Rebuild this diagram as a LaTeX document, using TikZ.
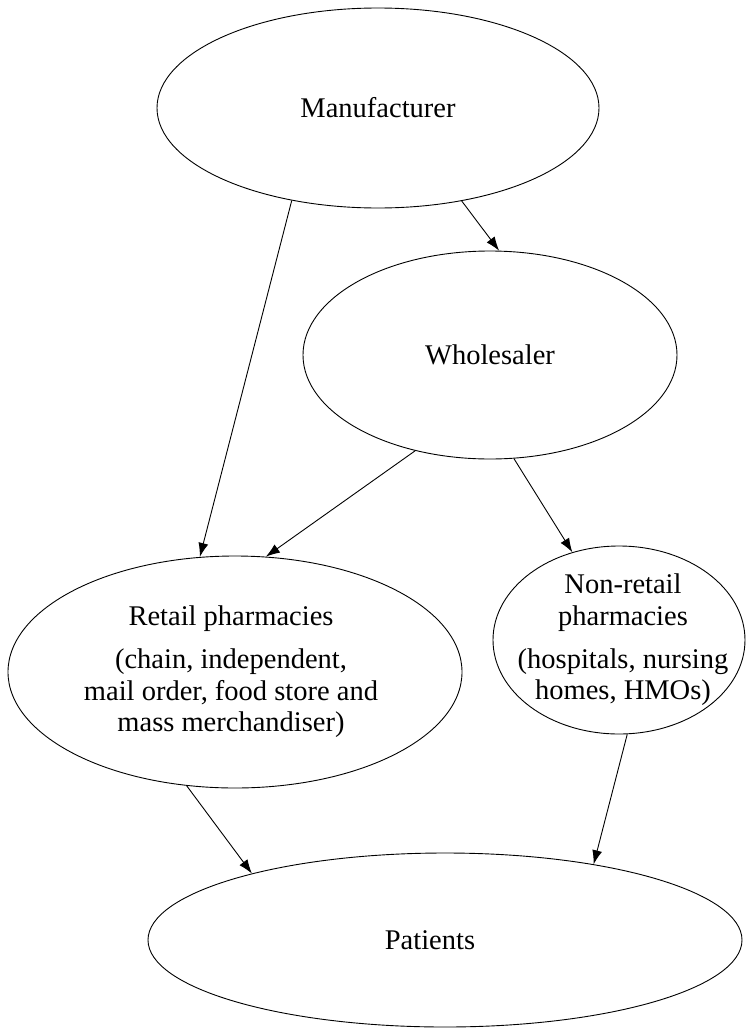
\documentclass[tikz,border=0pt]{standalone}
\usepackage{fontspec}
\setmainfont{Liberation Serif}
\usetikzlibrary{shapes.geometric,arrows.meta}
\begin{document}
\begin{tikzpicture}[x=1pt,y=-1pt,
  oval/.style={draw,ellipse,line width=0.9pt,inner sep=0pt},
  lbl/.style={align=center,inner sep=0pt,font=\fontsize{28.5}{31.5}\selectfont},
  flow/.style={line width=0.9pt,-{Latex[length=14pt,width=10pt]}}]
\useasboundingbox (0,0) rectangle (747,1028);
% ovals
\node[oval,minimum width=442pt,minimum height=200pt] (M) at (378,108) {};
\node[oval,minimum width=374pt,minimum height=208pt] (W) at (490,355) {};
\node[oval,minimum width=454pt,minimum height=232pt] (R) at (235,672) {};
\node[oval,minimum width=252pt,minimum height=188pt] (N) at (619,640) {};
\node[oval,minimum width=594pt,minimum height=174pt] (P) at (445,940) {};
% texts
\node[lbl] (Mt) at (378,108) {Manufacturer};
\node[lbl] (Wt) at (490,355) {Wholesaler};
\node[lbl] (Rt) at (231,672) {Retail pharmacies\\[11.5pt](chain, independent,\\mail order, food store and\\mass merchandiser)};
\node[lbl] (Nt) at (623,640) {Non-retail\\pharmacies\\[11.5pt](hospitals, nursing\\homes, HMOs)};
\node[lbl] (Pt) at (430,940) {Patients};
% flows
\draw[flow] (M.-48) -- (W.85);
\draw[flow] (M.-133) -- (R.107);
\draw[flow] (W.-128) -- (R.75);
\draw[flow] (W.-77) -- (N.118);
\draw[flow] (R.-113) -- (P.161);
\draw[flow] (N.-85) -- (P.27);
\end{tikzpicture}
\end{document}
